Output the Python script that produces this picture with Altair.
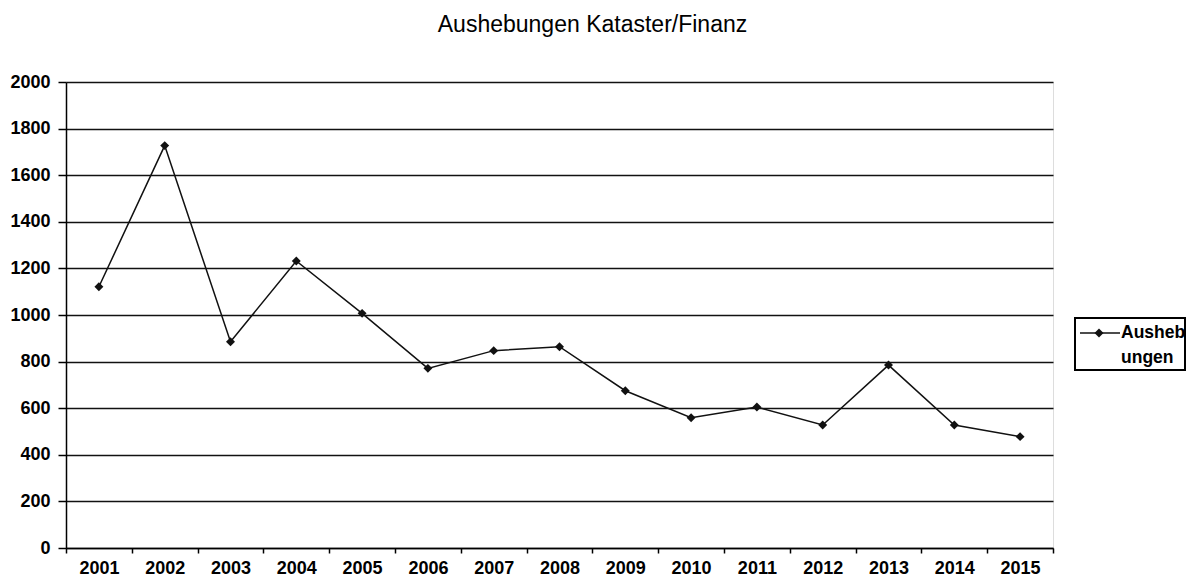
import altair as alt
import pandas as pd

years = ["2001", "2002", "2003", "2004", "2005", "2006", "2007", "2008",
         "2009", "2010", "2011", "2012", "2013", "2014", "2015"]
values = [1121, 1727, 885, 1232, 1007, 771, 847, 864, 675, 559, 605, 528, 785, 528, 478]
series_name = "Aushebungen"
legend_lines = ["Ausheb", "ungen"]
y_ticks = [0, 200, 400, 600, 800, 1000, 1200, 1400, 1600, 1800, 2000]

df = pd.DataFrame({"Jahr": years, "Wert": values, "Serie": [series_name] * len(years)})
legend_df = pd.DataFrame({"Serie": [series_name]})

FONT = "Liberation Sans"
INK = "#111111"

x_enc = alt.X("Jahr:O", sort=years, title=None,
              scale=alt.Scale(paddingInner=0, paddingOuter=0),
              axis=alt.Axis(labelAngle=0, tickBand="extent", tickSize=5,
                            labelPadding=6, labelFontSize=18, labelFont=FONT,
                            labelFontWeight="bold",
                            labelColor="black", domainColor="black", domainWidth=1.5,
                            tickColor="black", tickWidth=1.5, grid=False))
y_enc = alt.Y("Wert:Q", title=None,
              scale=alt.Scale(domain=[0, 2000], nice=False),
              axis=alt.Axis(values=y_ticks, format="d", tickSize=8, labelPadding=8,
                            labelFontSize=18, labelFont=FONT, labelFontWeight="bold",
                            labelColor="black",
                            domainColor="black", domainWidth=1.5, tickColor="black",
                            tickWidth=1.5, grid=True, gridColor=INK,
                            gridWidth=1.6, gridOpacity=1))

line = alt.Chart(df).mark_line(color=INK, strokeWidth=1.5).encode(x=x_enc, y=y_enc)

points = alt.Chart(df).mark_point(shape="diamond", filled=True, size=80, opacity=1,
                                  color=INK).encode(
    x=alt.X("Jahr:O", sort=years),
    y="Wert:Q",
)

# legend (drawn beside the plot area)
leg_box = alt.Chart(legend_df).mark_rect(fill="white", stroke="black", strokeWidth=2).encode(
    x=alt.value(1009), x2=alt.value(1119), y=alt.value(236), y2=alt.value(288))
leg_rule = alt.Chart(legend_df).mark_rule(color=INK, strokeWidth=1.5).encode(
    x=alt.value(1014), x2=alt.value(1054), y=alt.value(251))
leg_point = alt.Chart(legend_df).mark_point(shape="diamond", filled=True, size=80,
                                            opacity=1, color=INK).encode(
    x=alt.value(1033), y=alt.value(251))
leg_text = alt.Chart(legend_df).mark_text(
    text=legend_lines, align="left", baseline="alphabetic", lineHeight=25,
    fontSize=17.5, font=FONT, fontWeight="bold", color="black").encode(
    x=alt.value(1055), y=alt.value(256))

chart = alt.layer(line, points, leg_box, leg_rule, leg_point, leg_text).properties(
    width=987, height=466,
    autosize=alt.AutoSizeParams(type="none"),
    padding={"left": 58, "top": 74, "right": 133, "bottom": 30},
    title=alt.TitleParams("Aushebungen Kataster/Finanz", fontSize=23, font=FONT,
                          fontWeight="normal", color="black", anchor="middle",
                          dx=33, offset=36),
).configure_view(stroke="black", strokeWidth=1.5).configure(background="white")

chart.save("out.html", embed_options={"renderer": "svg", "actions": False})
